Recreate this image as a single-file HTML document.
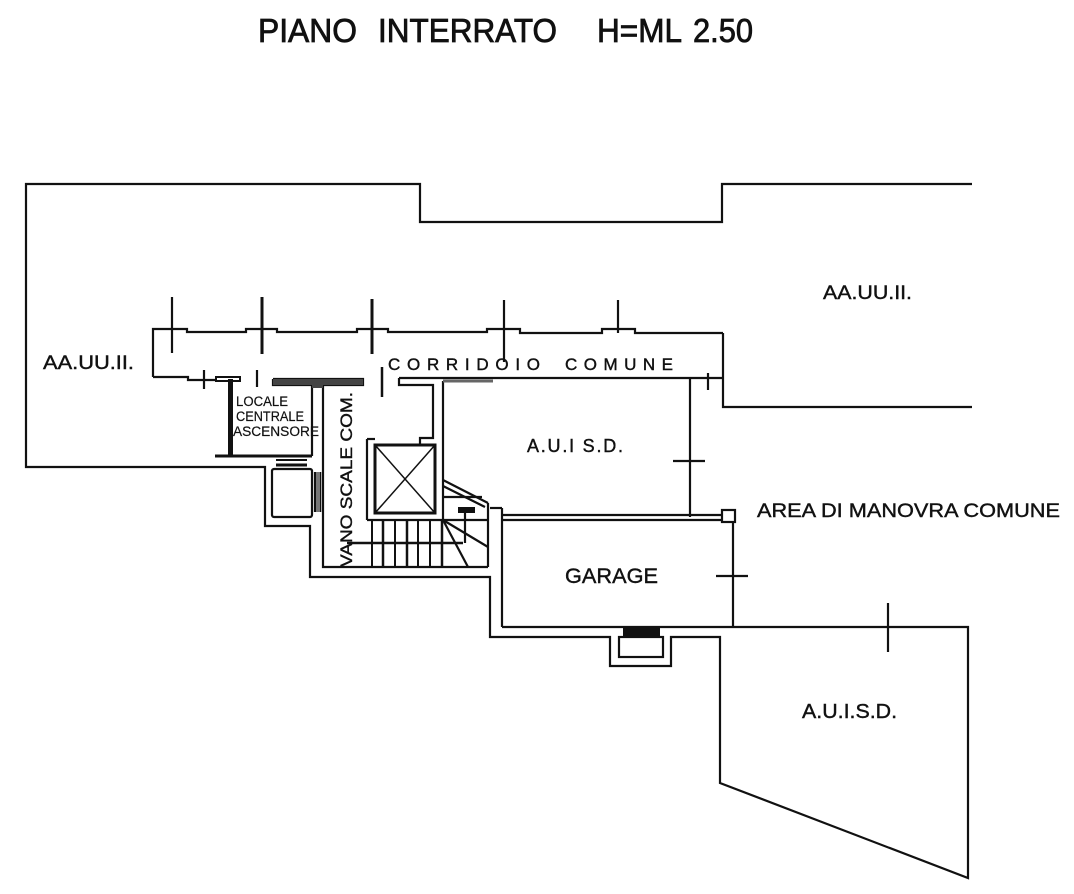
<!DOCTYPE html>
<html>
<head>
<meta charset="utf-8">
<style>
html,body{margin:0;padding:0;background:#fff;}
svg{display:block;}
text{font-family:"Liberation Sans",Arial,sans-serif;fill:#111;}
</style>
</head>
<body>
<svg width="1074" height="894" viewBox="0 0 1074 894" xmlns="http://www.w3.org/2000/svg">
<rect width="1074" height="894" fill="#fff"/>

<!-- Title -->
<g font-size="33" stroke="#111" stroke-width="0.8">
<text x="258" y="42" textLength="99" lengthAdjust="spacingAndGlyphs">PIANO</text>
<text x="378" y="42" textLength="179" lengthAdjust="spacingAndGlyphs">INTERRATO</text>
<text x="597" y="42" textLength="85" lengthAdjust="spacingAndGlyphs">H=ML</text>
<text x="693" y="42" textLength="60" lengthAdjust="spacingAndGlyphs">2.50</text>
</g>

<g fill="none" stroke="#111" stroke-width="2.2" stroke-linejoin="miter">
<!-- outer boundary -->
<polyline points="972,184 722,184 722,222 420,222 420,184 26,184 26,467 265,467 265,526 310,526 310,577 490,577 490,637 610,637 610,666 671,666 671,637 720,637 720,783 968,878 968,627 502,627"/>
<polyline points="723,333 723,407 972,407"/>

<!-- corridor top wall -->
<polyline points="153,377 153,329 187,329 187,332 246,332 246,329 277,329 277,332 357,332 357,329 388,329 388,332 487,332 487,329 520,329 520,333 602,333 602,329 635,329 635,333 723,333"/>
<!-- corridor bottom left -->
<polyline points="153,377 188,377 188,380 216,380"/>
<rect x="216" y="377" width="24" height="4" stroke-width="2"/>
<!-- ticks -->
<line x1="172" y1="297" x2="172" y2="353"/>
<line x1="262" y1="297" x2="262" y2="354" stroke-width="3"/>
<line x1="372" y1="299" x2="372" y2="354" stroke-width="3"/>
<line x1="504" y1="300" x2="504" y2="362"/>
<line x1="618" y1="300" x2="618" y2="333"/>
<line x1="204" y1="370" x2="204" y2="389"/>
<line x1="257" y1="370" x2="257" y2="387"/>
<line x1="382" y1="367" x2="382" y2="397" stroke-width="2.5"/>
<line x1="708" y1="373" x2="708" y2="390"/>

<!-- locale / vano walls -->
<polyline points="273,379 363,379 363,385 323,385 323,567 488,567"/>
<polyline points="273,379 273,385 312,385 312,456"/>
<line x1="215" y1="456" x2="312" y2="456" stroke-width="3"/>

<!-- right corridor / A.U.I -->
<line x1="399" y1="378" x2="723" y2="378"/>
<polyline points="399,378 399,385 433,385 433,438 420,438 420,445"/>
<line x1="443" y1="381" x2="443" y2="520"/>
<line x1="443" y1="381" x2="493" y2="381" stroke-width="3" stroke="#666"/>
<line x1="690" y1="378" x2="690" y2="517"/>
<line x1="673" y1="461" x2="705" y2="461"/>

<!-- small room -->
<rect x="272" y="469" width="40" height="48" rx="2"/>
<line x1="276" y1="460" x2="307" y2="460" stroke-width="2"/>
<line x1="276" y1="465" x2="307" y2="465" stroke-width="3"/>
<line x1="315" y1="472" x2="315" y2="512"/>
<line x1="320" y1="472" x2="320" y2="512" stroke-width="2.5"/>

<!-- elevator -->
<line x1="367" y1="439" x2="367" y2="520"/>
<line x1="367" y1="439" x2="375" y2="439"/>
<rect x="375" y="445" width="60" height="68" stroke-width="3"/>
<line x1="375" y1="445" x2="435" y2="513" stroke-width="1.5"/>
<line x1="435" y1="445" x2="375" y2="513" stroke-width="1.5"/>
<line x1="367" y1="520" x2="488" y2="520"/>

<!-- stairs -->
<g stroke-width="2">
<line x1="372" y1="520" x2="372" y2="567"/>
<line x1="383" y1="520" x2="383" y2="567" stroke-width="2.5"/>
<line x1="395" y1="520" x2="395" y2="567"/>
<line x1="407" y1="520" x2="407" y2="567" stroke-width="2.5"/>
<line x1="418" y1="520" x2="418" y2="567"/>
<line x1="430" y1="520" x2="430" y2="567"/>
<line x1="442" y1="520" x2="442" y2="567" stroke-width="2.5"/>
</g>
<line x1="347" y1="543" x2="463" y2="543" stroke-width="2.5"/>
<line x1="443" y1="520" x2="488" y2="547"/>
<line x1="443" y1="520" x2="468" y2="567"/>
<line x1="443" y1="497" x2="482" y2="497"/>
<line x1="443" y1="480" x2="488" y2="503"/>
<line x1="443" y1="486" x2="485" y2="507"/>
<line x1="465" y1="510" x2="465" y2="543"/>
<line x1="488" y1="503" x2="488" y2="567"/>

<!-- garage -->
<line x1="490" y1="508" x2="502" y2="508"/>
<line x1="502" y1="508" x2="502" y2="627"/>
<line x1="502" y1="515" x2="722" y2="515"/>
<line x1="502" y1="520" x2="722" y2="520"/>
<rect x="722" y="510" width="13" height="12"/>
<line x1="733" y1="522" x2="733" y2="627"/>
<line x1="716" y1="576" x2="748" y2="576"/>
<rect x="619" y="637" width="44" height="20"/>

<!-- lower area tick -->
<line x1="888" y1="603" x2="888" y2="652"/>
</g>

<!-- filled elements -->
<rect x="228" y="379" width="5" height="77" fill="#111"/>
<rect x="273" y="379" width="90" height="6" fill="#444"/>
<rect x="312" y="385" width="11" height="3" fill="#444"/>
<rect x="623" y="627" width="37" height="9" fill="#111"/>
<rect x="458" y="507" width="17" height="6" fill="#111"/>
<rect x="316" y="472" width="4" height="40" fill="#777"/>

<!-- labels -->
<g stroke="#111" stroke-width="0.4">
<text x="43" y="369" font-size="19" textLength="91" lengthAdjust="spacingAndGlyphs">AA.UU.II.</text>
<text x="823" y="299" font-size="19" textLength="89" lengthAdjust="spacingAndGlyphs">AA.UU.II.</text>
<text x="388" y="370" font-size="17" textLength="152" lengthAdjust="spacing">CORRIDOIO</text>
<text x="565" y="370" font-size="17" textLength="108" lengthAdjust="spacing">COMUNE</text>
<text x="236" y="406" font-size="13.5" textLength="52" lengthAdjust="spacingAndGlyphs" stroke-width="0.2">LOCALE</text>
<text x="236" y="421" font-size="13.5" textLength="68" lengthAdjust="spacingAndGlyphs" stroke-width="0.2">CENTRALE</text>
<text x="233" y="436" font-size="13.5" textLength="86" lengthAdjust="spacingAndGlyphs" stroke-width="0.2">ASCENSORE</text>
<text transform="translate(352,567) rotate(-90)" font-size="17" textLength="175" lengthAdjust="spacingAndGlyphs">VANO SCALE COM.</text>
<text x="527" y="452" font-size="18" textLength="96" lengthAdjust="spacing">A.U.I S.D.</text>
<text x="565" y="583" font-size="21" textLength="93" lengthAdjust="spacingAndGlyphs">GARAGE</text>
<text x="802" y="718" font-size="20" textLength="95" lengthAdjust="spacingAndGlyphs">A.U.I.S.D.</text>
<text x="757" y="517" font-size="19" textLength="303" lengthAdjust="spacingAndGlyphs">AREA DI MANOVRA COMUNE</text>
</g>
</svg>
</body>
</html>
